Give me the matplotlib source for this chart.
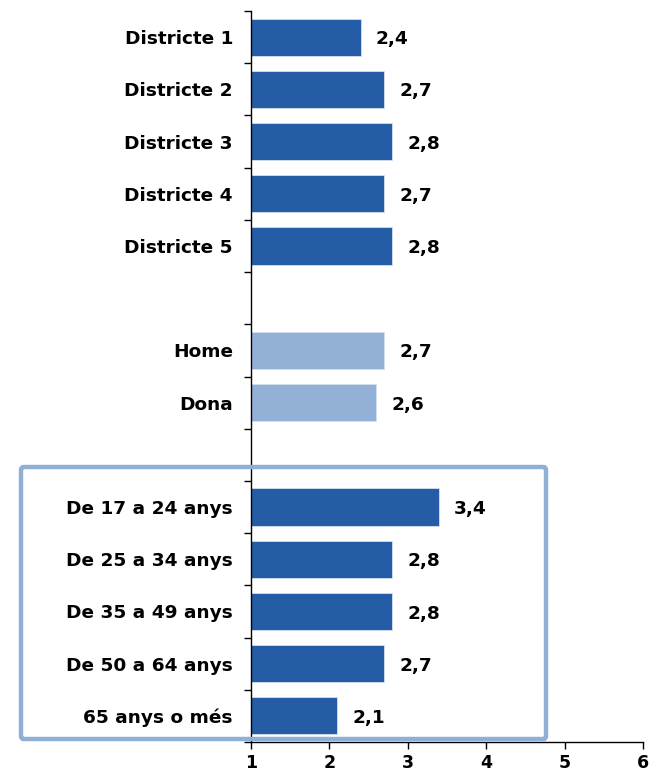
import matplotlib
matplotlib.use("Agg")
import matplotlib.pyplot as plt
from matplotlib.patches import FancyBboxPatch
import numpy as np

categories = ["Districte 1", "Districte 2", "Districte 3", "Districte 4", "Districte 5",
              "",
              "Home", "Dona",
              "",
              "De 17 a 24 anys", "De 25 a 34 anys", "De 35 a 49 anys", "De 50 a 64 anys", "65 anys o més"]
values = [2.4, 2.7, 2.8, 2.7, 2.8,
          None,
          2.7, 2.6,
          None,
          3.4, 2.8, 2.8, 2.7, 2.1]
groups = ["d", "d", "d", "d", "d", None, "g", "g", None, "a", "a", "a", "a", "a"]
x_ticks = [1, 2, 3, 4, 5, 6]

dark = "#245DA6"
light = "#93B1D7"
box_col = "#8FAFD5"

fig = plt.figure(figsize=(6.51, 7.76), dpi=100)
ax = fig.add_axes([251/651, 1-742/776, (643-251)/651, (742-11)/776])

fs = 13.3
n = len(categories)
ypos = np.arange(n)
for y, v, g in zip(ypos, values, groups):
    if v is None:
        continue
    col = light if g == "g" else dark
    ax.barh(y, v, height=0.71, color=col, edgecolor="#D5E0EE", linewidth=0.6)
    ax.text(v + 0.19, y + 0.04, f"{v:.1f}".replace(".", ","), va="center", ha="left",
            fontsize=fs, fontweight="bold", color="black")

ax.set_xlim(1, 6)
ax.set_ylim(n - 0.5, -0.5)
ax.set_xticks(x_ticks)
ax.set_xticklabels([str(t) for t in x_ticks], fontsize=12.5, fontweight="bold")
ax.set_yticks(ypos)
ax.set_yticklabels(categories, fontsize=fs, fontweight="bold")
ax.set_yticks(np.arange(-0.5, n, 1.0), minor=True)
ax.tick_params(axis="y", which="major", length=0, pad=13)
ax.tick_params(axis="y", which="minor", length=5, width=1, direction="out")
ax.tick_params(axis="x", which="major", length=5, width=1, direction="out", pad=4)
for s in ["top", "right"]:
    ax.spines[s].set_visible(False)
ax.spines["left"].set_linewidth(1)
ax.spines["bottom"].set_linewidth(1)
ax.spines["left"].set_color("black")
ax.spines["bottom"].set_color("black")

# highlight box around age groups
x0, x1 = 21/651, 546/651
y0, y1 = 1-739/776, 1-467/776
box = FancyBboxPatch((x0, y0), x1 - x0, y1 - y0, boxstyle="round,pad=0,rounding_size=0.004",
                     transform=fig.transFigure, fill=False, edgecolor=box_col,
                     linewidth=3.2, zorder=10)
fig.patches.append(box)

fig.savefig("out.png", dpi=100)
